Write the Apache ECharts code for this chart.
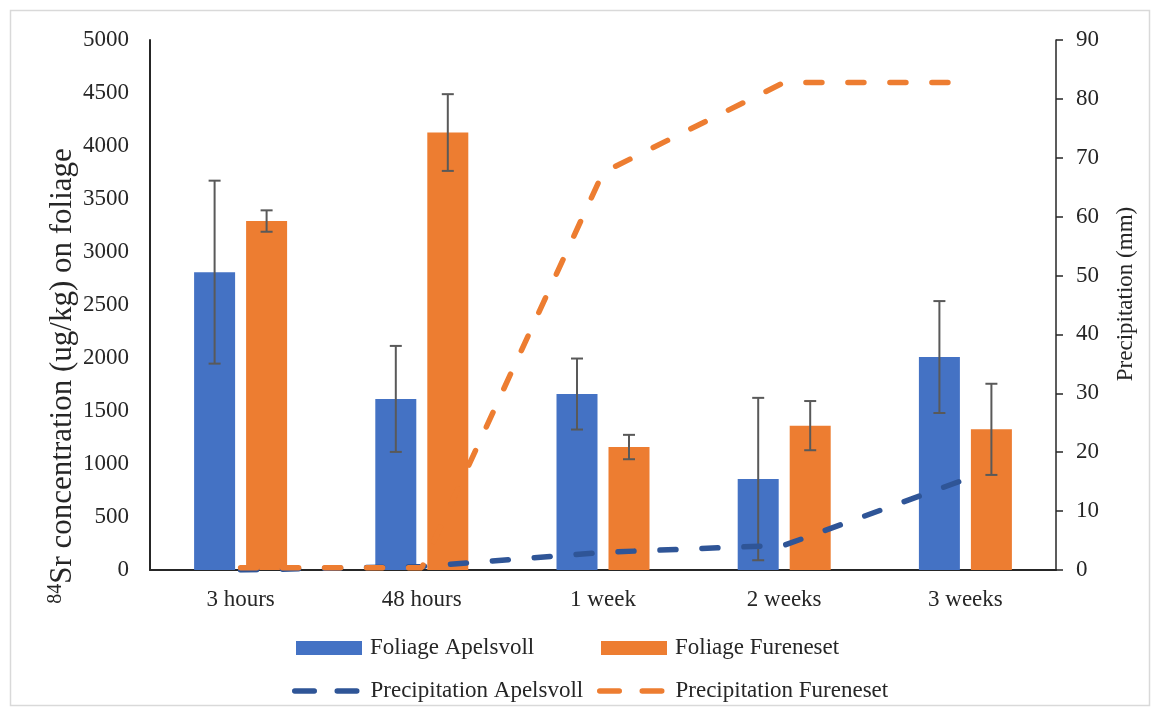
<!DOCTYPE html>
<html>
<head>
<meta charset="utf-8">
<script src="https://cdn.jsdelivr.net/npm/echarts@6/dist/echarts.min.js"></script>
<style>
html,body{margin:0;padding:0;background:#fff;}
#c{width:1160px;height:716px;}
</style>
</head>
<body>
<div id="c"></div>
<script>
const categories = ['3 hours', '48 hours', '1 week', '2 weeks', '3 weeks'];
const foliageApelsvoll = [2810, 1614, 1660, 858, 2009];
const foliageApelsvollErr = [863, 500, 335, 766, 528];
const foliageFureneset = [3292, 4127, 1160, 1362, 1327];
const foliageFurenesetErr = [101, 362, 115, 232, 430];
const precipApelsvoll = [0, 0.6, 3.0, 4.2, 15.4];
const precipFureneset = [0.4, 0.4, 67.5, 82.8, 82.8];
const leftTicks = {min: 0, max: 5000, interval: 500};
const rightTicks = {min: 0, max: 90, interval: 10};

const FONT = 'Liberation Serif';
const TXT = '#262626';
const BLUE = '#4472C4', ORANGE = '#ED7D31', BLUE_LINE = '#2F5597';
const BAR_W = 41, BAR_GAP = 11;
const DASH_ICON = 'path://M2.75,0 H22.25 A2.75,2.75 0 0 1 22.25,5.5 H2.75 A2.75,2.75 0 0 1 2.75,0 Z ' +
                  'M45.25,0 H64.75 A2.75,2.75 0 0 1 64.75,5.5 H45.25 A2.75,2.75 0 0 1 45.25,0 Z';

function errData(means, errs) {
  return means.map((m, i) => [i, m - errs[i], m + errs[i]]);
}
function errSeries(means, errs, sign) {
  return {
    type: 'custom',
    xAxisIndex: 0, yAxisIndex: 0,
    z: 5,
    silent: true,
    data: errData(means, errs),
    encode: {x: 0, y: [1, 2]},
    renderItem: function (params, api) {
      const i = api.value(0);
      const lo = api.coord([i, api.value(1)]);
      const hi = api.coord([i, api.value(2)]);
      const x = lo[0] + sign * (BAR_W + BAR_GAP) / 2;
      const cap = 6;
      const st = {stroke: '#595959', lineWidth: 2};
      return {type: 'group', children: [
        {type: 'line', shape: {x1: x, y1: lo[1], x2: x, y2: hi[1]}, style: st},
        {type: 'line', shape: {x1: x - cap, y1: lo[1], x2: x + cap, y2: lo[1]}, style: st},
        {type: 'line', shape: {x1: x - cap, y1: hi[1], x2: x + cap, y2: hi[1]}, style: st}
      ]};
    }
  };
}
function legendAt(name, left, top, isBar) {
  const l = {
    data: [name], left: left, top: top, padding: 0, selectedMode: false,
    textStyle: {fontFamily: FONT, fontSize: 23, color: TXT}
  };
  if (isBar) {
    l.icon = 'rect';
    l.itemWidth = 66; l.itemHeight = 14;
    l.textStyle.padding = [0, 0, 0, 3];
  } else {
    l.icon = DASH_ICON;
    l.itemWidth = 67.5; l.itemHeight = 5.5;
    l.textStyle.padding = [0, 0, 0, 6];
  }
  return l;
}
const lineStyleFor = (c) => ({color: c, width: 5.5, type: [16, 26], cap: 'round'});
const plainNum = (v) => String(v);

const chart = echarts.init(document.getElementById('c'), null, {renderer: 'canvas'});
chart.setOption({
  backgroundColor: '#fff',
  animation: false,
  grid: {left: 150, right: 104, top: 40, bottom: 146, containLabel: false},
  xAxis: {
    type: 'category', data: categories,
    axisLine: {lineStyle: {color: '#262626', width: 2}},
    axisTick: {show: false},
    axisLabel: {fontFamily: FONT, fontSize: 23, color: TXT, margin: 18}
  },
  yAxis: [
    {
      type: 'value', min: leftTicks.min, max: leftTicks.max, interval: leftTicks.interval,
      axisLine: {show: true, lineStyle: {color: '#262626', width: 2}},
      axisTick: {show: false},
      splitLine: {show: false},
      axisLabel: {fontFamily: FONT, fontSize: 23, color: TXT, margin: 21, formatter: plainNum}
    },
    {
      type: 'value', position: 'right', min: rightTicks.min, max: rightTicks.max, interval: rightTicks.interval,
      axisLine: {show: true, lineStyle: {color: '#262626', width: 1.5}},
      axisTick: {show: true, length: 7, lineStyle: {color: '#262626', width: 1.5}},
      splitLine: {show: false},
      axisLabel: {fontFamily: FONT, fontSize: 23, color: TXT, margin: 20, formatter: plainNum}
    }
  ],
  legend: [
    legendAt('Foliage Apelsvoll', 296, 636.5, true),
    legendAt('Foliage Fureneset', 601, 636.5, true),
    legendAt('Precipitation Apelsvoll', 292, 679.5, false),
    legendAt('Precipitation Fureneset', 597, 679.5, false)
  ],
  graphic: [
    {type: 'rect', shape: {x: 10.5, y: 10.5, width: 1139, height: 695},
     style: {fill: 'none', stroke: '#d9d9d9', lineWidth: 1.5}, silent: true},
    {type: 'text', x: 63, y: 376, rotation: Math.PI / 2, silent: true,
     style: {
       text: '{sup|84}{main|Sr concentration (ug/kg) on foliage}',
       align: 'center', verticalAlign: 'middle',
       rich: {
         sup: {fontFamily: FONT, fontSize: 20, fill: TXT, verticalAlign: 'top', lineHeight: 34, padding: [0, 0, 13, 0]},
         main: {fontFamily: FONT, fontSize: 31, fill: TXT, lineHeight: 34}
       }
     }},
    {type: 'text', x: 1126, y: 294, rotation: Math.PI / 2, silent: true,
     style: {text: 'Precipitation (mm)', fontFamily: FONT, fontSize: 23, fill: TXT,
             align: 'center', verticalAlign: 'middle'}}
  ],
  series: [
    {name: 'Foliage Apelsvoll', type: 'bar', data: foliageApelsvoll, barWidth: BAR_W,
     barGap: (BAR_GAP / BAR_W * 100) + '%', itemStyle: {color: BLUE}, z: 2},
    {name: 'Foliage Fureneset', type: 'bar', data: foliageFureneset, barWidth: BAR_W,
     barGap: (BAR_GAP / BAR_W * 100) + '%', itemStyle: {color: ORANGE}, z: 2},
    errSeries(foliageApelsvoll, foliageApelsvollErr, -1),
    errSeries(foliageFureneset, foliageFurenesetErr, 1),
    {name: 'Precipitation Apelsvoll', type: 'line', yAxisIndex: 1, data: precipApelsvoll,
     symbol: 'none', lineStyle: lineStyleFor(BLUE_LINE), itemStyle: {color: BLUE_LINE}, z: 6},
    {name: 'Precipitation Fureneset', type: 'line', yAxisIndex: 1, data: precipFureneset,
     symbol: 'none', lineStyle: lineStyleFor(ORANGE), itemStyle: {color: ORANGE}, z: 6}
  ]
});
</script>
</body>
</html>
